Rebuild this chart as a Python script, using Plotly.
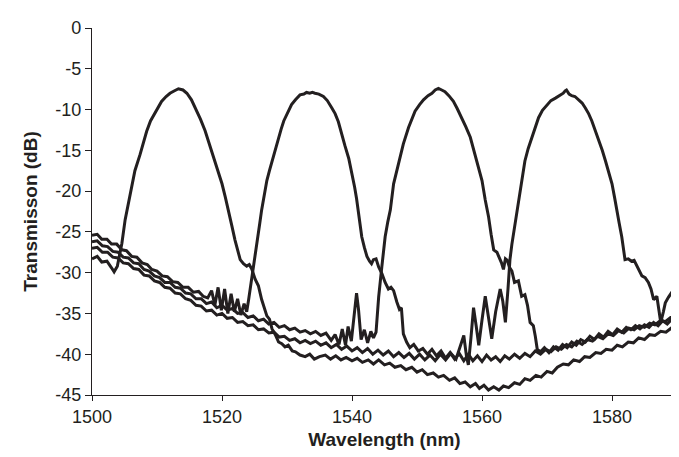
import plotly.graph_objects as go

# transmission spectra of four filters
wl_a = [1500.0, 1500.8, 1501.5, 1502.3, 1503.0, 1503.4, 1503.9, 1504.3, 1504.6, 1505.1,
        1505.9, 1506.6, 1507.4, 1508.4, 1509.0, 1509.8, 1510.7, 1511.4, 1512.0, 1512.7,
        1513.3, 1514.0, 1514.6, 1515.3, 1515.9, 1516.7, 1517.4, 1518.1, 1518.7, 1519.4,
        1520.0, 1520.5, 1521.0, 1521.5, 1522.0, 1522.4, 1522.8, 1523.3, 1523.8, 1524.2,
        1524.6, 1525.1, 1525.6, 1526.1, 1526.5, 1526.9, 1527.3, 1527.7, 1528.2, 1528.7,
        1529.2, 1529.7, 1530.2, 1530.8, 1531.3, 1532.0, 1532.8, 1533.5, 1534.2, 1535.0,
        1535.9, 1536.7, 1537.5, 1538.3, 1539.1, 1540.0, 1540.8, 1541.6, 1542.5, 1543.3,
        1544.1, 1545.0, 1545.8, 1546.6, 1547.5, 1548.3, 1549.2, 1550.0, 1550.8, 1551.6,
        1552.5, 1553.3, 1554.1, 1555.0, 1555.8, 1556.6, 1557.4, 1558.2, 1559.0, 1559.6,
        1560.3, 1561.0, 1561.8, 1562.6, 1563.3, 1564.1, 1565.0, 1565.8, 1566.6, 1567.4,
        1568.3, 1569.1, 1570.0, 1570.8, 1571.6, 1572.5, 1573.3, 1574.1, 1575.0, 1575.8,
        1576.6, 1577.5, 1578.3, 1579.1, 1580.0, 1580.8, 1581.6, 1582.5, 1583.3, 1584.1,
        1585.0, 1585.8, 1586.6, 1587.5, 1588.3, 1589.1, 1590.0]
db_a = [-28.3, -28.0, -28.7, -28.6, -29.4, -29.9, -29.2, -27.8, -26.4, -23.5,
        -20.3, -17.5, -15.5, -12.7, -11.4, -10.2, -9.0, -8.4, -8.0, -7.7,
        -7.45, -7.6, -8.0, -8.8, -9.8, -11.2, -12.6, -14.3, -15.9, -17.6,
        -19.1, -20.7, -22.3, -24.2, -26.0, -27.3, -28.4, -28.9, -29.2, -29.0,
        -29.6, -30.8, -31.6, -33.3, -34.2, -35.3, -35.7, -36.9, -37.6, -38.5,
        -38.7, -39.1, -38.9, -39.6, -39.7, -40.1, -40.3, -40.0, -40.6, -40.3,
        -40.1, -40.6, -40.2, -40.7, -40.4, -40.8, -40.5, -41.0, -40.7, -41.2,
        -40.7, -41.3, -41.1, -41.6, -41.4, -41.9, -41.6, -42.2, -41.9, -42.5,
        -42.3, -42.8, -42.6, -43.2, -42.9, -43.6, -43.4, -44.0, -43.6, -44.2,
        -43.8, -44.4, -44.0, -44.4, -43.9, -44.1, -43.5, -43.7, -43.0, -43.2,
        -42.6, -42.8, -42.1, -42.3, -41.6, -41.2, -41.3, -40.7, -40.9, -40.3,
        -40.4, -39.8, -39.9, -39.4, -39.5, -38.9, -39.1, -38.5, -38.6, -38.0,
        -38.2, -37.6, -37.7, -37.2, -37.3, -36.8, -36.9]

wl_b = [1500.0, 1500.8, 1501.5, 1502.3, 1503.0, 1503.8, 1504.6, 1505.3, 1506.1, 1506.9,
        1507.7, 1508.5, 1509.2, 1510.0, 1510.8, 1511.6, 1512.4, 1513.2, 1514.0, 1514.8,
        1515.6, 1516.4, 1517.1, 1517.8, 1518.4, 1518.9, 1519.4, 1519.9, 1520.4, 1520.9,
        1521.4, 1521.9, 1522.4, 1522.9, 1523.4, 1523.8, 1524.1, 1524.6, 1525.0, 1525.4,
        1525.8, 1526.1, 1526.5, 1526.9, 1527.3, 1527.7, 1528.2, 1528.7, 1529.1, 1529.5,
        1530.1, 1530.7, 1531.3, 1532.0, 1532.6, 1533.0, 1533.5, 1533.9, 1534.3, 1534.9,
        1535.6, 1536.2, 1536.9, 1537.4, 1537.9, 1538.4, 1538.9, 1539.5, 1540.0, 1540.4,
        1540.7, 1541.1, 1541.5, 1541.9, 1542.3, 1542.7, 1543.0, 1543.3, 1543.7, 1544.1,
        1544.6, 1545.1, 1545.6, 1546.0, 1546.4, 1546.9, 1547.3, 1547.6, 1547.9, 1548.4,
        1548.9, 1549.5, 1550.2, 1550.9, 1551.6, 1552.3, 1553.0, 1553.7, 1554.4, 1555.1,
        1555.8, 1556.5, 1557.2, 1557.9, 1558.6, 1559.3, 1560.0, 1560.7, 1561.4, 1562.1,
        1562.8, 1563.5, 1564.2, 1565.0, 1565.8, 1566.6, 1567.4, 1568.2, 1569.0, 1569.8,
        1570.6, 1571.4, 1572.2, 1573.0, 1573.8, 1574.6, 1575.4, 1576.2, 1577.0, 1577.8,
        1578.6, 1579.4, 1580.2, 1581.0, 1581.8, 1582.6, 1583.4, 1584.2, 1585.0, 1585.8,
        1586.6, 1587.4, 1588.2, 1589.0, 1590.0]
db_b = [-25.4, -25.3, -25.9, -25.9, -26.5, -26.5, -27.2, -27.3, -28.0, -28.1,
        -28.8, -29.0, -29.6, -29.8, -30.4, -30.5, -31.1, -31.2, -31.8, -31.8,
        -32.4, -32.3, -32.9, -33.1, -32.2, -34.0, -31.8, -34.6, -32.0, -35.0,
        -32.6, -34.8, -33.2, -35.2, -33.8, -34.8, -33.3, -30.4, -28.0, -26.0,
        -24.0, -22.3, -20.4, -18.7, -17.5, -16.3, -14.8, -13.4, -12.4, -11.4,
        -10.3, -9.4, -8.8, -8.2, -8.1, -7.9, -8.0, -7.9, -8.0, -8.1,
        -8.4, -8.9, -9.8, -10.5, -11.5, -12.8, -14.4, -16.0, -17.8, -19.5,
        -20.9, -23.4, -25.6, -26.9, -28.0, -28.6, -28.9, -28.4, -28.3, -29.3,
        -30.1, -31.2, -32.0, -31.8, -32.2, -33.6, -34.5, -34.3, -37.5, -38.5,
        -39.2, -38.8, -39.6, -39.3, -40.0, -39.4, -40.2, -39.6, -40.5, -39.8,
        -40.6, -39.9, -40.8, -40.0, -40.8, -40.2, -40.9, -40.1, -40.7, -40.3,
        -40.9, -40.2, -40.6, -40.0, -40.5, -39.9, -40.3, -39.6, -40.0, -39.4,
        -39.7, -39.1, -39.4, -38.8, -39.1, -38.4, -38.8, -38.2, -38.4, -37.8,
        -38.1, -37.5, -37.7, -37.1, -37.4, -36.8, -37.0, -36.5, -36.7, -36.2,
        -36.4, -35.9, -36.0, -35.5, -35.6]

wl_c = [1500.0, 1500.8, 1501.6, 1502.4, 1503.2, 1504.0, 1504.8, 1505.6, 1506.4, 1507.2,
        1508.0, 1508.8, 1509.6, 1510.4, 1511.2, 1512.0, 1512.8, 1513.6, 1514.4, 1515.2,
        1516.0, 1516.8, 1517.6, 1518.4, 1519.2, 1520.0, 1520.8, 1521.6, 1522.4, 1523.2,
        1524.0, 1524.8, 1525.6, 1526.4, 1527.2, 1528.0, 1528.8, 1529.6, 1530.4, 1531.2,
        1532.0, 1532.8, 1533.6, 1534.4, 1535.2, 1536.0, 1536.8, 1537.4, 1538.0, 1538.5,
        1539.0, 1539.4, 1539.9, 1540.3, 1540.7, 1541.0, 1541.4, 1541.9, 1542.4, 1542.9,
        1543.3, 1543.7, 1544.1, 1544.6, 1545.1, 1545.5, 1545.9, 1546.4, 1546.8, 1547.2,
        1547.9, 1548.7, 1549.2, 1549.7, 1550.4, 1551.0, 1551.7, 1552.3, 1552.8, 1553.3,
        1553.8, 1554.3, 1554.9, 1555.6, 1556.2, 1556.9, 1557.5, 1558.2, 1558.7, 1559.2,
        1559.6, 1560.0, 1560.5, 1561.0, 1561.4, 1561.8, 1562.3, 1562.7, 1563.0, 1563.3,
        1563.6, 1563.9, 1564.2, 1564.6, 1565.0, 1565.6, 1566.1, 1566.6, 1567.0, 1567.4,
        1567.9, 1568.2, 1568.5, 1569.0, 1569.6, 1570.3, 1571.0, 1571.7, 1572.4, 1573.1,
        1573.8, 1574.5, 1575.2, 1575.9, 1576.6, 1577.3, 1578.0, 1578.7, 1579.4, 1580.1,
        1580.8, 1581.5, 1582.2, 1582.9, 1583.6, 1584.3, 1585.0, 1585.7, 1586.4, 1587.1,
        1587.8, 1588.5, 1589.2, 1590.0]
db_c = [-26.2, -26.1, -26.7, -26.8, -27.4, -27.5, -28.1, -28.2, -28.8, -28.9,
        -29.6, -29.8, -30.4, -30.6, -31.2, -31.2, -31.8, -31.9, -32.5, -32.6,
        -33.2, -33.2, -33.8, -33.6, -34.3, -34.0, -34.6, -34.4, -35.0, -34.9,
        -35.5, -35.3, -35.9, -35.7, -36.3, -36.1, -36.7, -36.5, -37.0, -36.8,
        -37.3, -37.1, -37.5, -37.2, -37.7, -37.4, -38.3, -37.6, -38.8, -36.9,
        -38.9, -36.6, -38.4, -35.5, -32.5, -34.5, -38.2, -37.0, -38.6, -37.2,
        -38.0, -37.3, -33.0, -29.2, -25.6, -23.8, -22.3, -19.1, -17.8, -16.7,
        -14.2, -12.2, -11.1, -10.2, -9.4, -8.8, -8.3, -8.0, -7.6, -7.4,
        -7.6, -7.8, -8.3, -9.0, -9.9, -11.0, -12.1, -13.4, -14.8, -16.3,
        -17.4, -18.7, -21.1, -23.1, -25.3, -27.2, -27.5, -28.2, -28.8, -29.6,
        -28.3, -28.5, -29.3, -29.8, -31.2, -31.0, -32.9, -32.7, -34.0, -36.1,
        -36.5, -37.8, -39.4, -39.7, -39.2, -39.8, -39.1, -39.5, -38.8, -39.2,
        -38.5, -38.9, -38.2, -38.5, -37.8, -38.2, -37.5, -37.9, -37.2, -37.6,
        -36.9, -37.3, -36.7, -37.0, -36.5, -36.9, -36.4, -36.7, -36.1, -36.5,
        -35.9, -36.3, -35.7, -36.0]

wl_d = [1500.0, 1500.8, 1501.6, 1502.4, 1503.2, 1504.0, 1504.8, 1505.6, 1506.4, 1507.2,
        1508.0, 1508.8, 1509.6, 1510.4, 1511.2, 1512.0, 1512.8, 1513.6, 1514.4, 1515.2,
        1516.0, 1516.8, 1517.6, 1518.4, 1519.2, 1520.0, 1520.8, 1521.6, 1522.4, 1523.2,
        1524.0, 1524.8, 1525.6, 1526.4, 1527.2, 1528.0, 1528.8, 1529.6, 1530.4, 1531.2,
        1532.0, 1532.8, 1533.6, 1534.4, 1535.2, 1536.0, 1536.8, 1537.6, 1538.4, 1539.2,
        1540.0, 1540.8, 1541.6, 1542.4, 1543.2, 1544.0, 1544.8, 1545.6, 1546.4, 1547.2,
        1548.0, 1548.8, 1549.6, 1550.4, 1551.2, 1552.0, 1552.8, 1553.6, 1554.4, 1555.2,
        1556.0, 1556.6, 1557.2, 1557.6, 1557.9, 1558.3, 1558.7, 1559.1, 1559.5, 1560.0,
        1560.5, 1561.0, 1561.5, 1562.1, 1562.8, 1563.2, 1563.6, 1564.0, 1564.3, 1564.6,
        1565.1, 1565.5, 1565.9, 1566.2, 1566.6, 1567.1, 1567.7, 1568.2, 1568.7, 1569.3,
        1570.0, 1570.6, 1571.3, 1571.9, 1572.5, 1572.8, 1573.0, 1573.4, 1573.8, 1574.3,
        1574.8, 1575.4, 1575.9, 1576.4, 1576.9, 1577.4, 1577.9, 1578.5, 1579.0, 1579.5,
        1580.0, 1580.4, 1580.7, 1581.1, 1581.5, 1581.8, 1582.0, 1582.5, 1583.0, 1583.4,
        1583.8, 1584.2, 1584.6, 1585.1, 1585.6, 1586.0, 1586.4, 1586.9, 1587.2, 1587.5,
        1587.9, 1588.2, 1588.7, 1589.2, 1589.6, 1590.0]
db_d = [-27.0, -26.9, -27.5, -27.5, -28.1, -28.2, -28.8, -28.9, -29.5, -29.6,
        -30.3, -30.4, -31.0, -31.2, -31.8, -31.9, -32.5, -32.6, -33.2, -33.4,
        -34.0, -34.1, -34.7, -34.6, -35.2, -35.0, -35.6, -35.5, -36.1, -36.0,
        -36.5, -36.4, -37.0, -36.9, -37.4, -37.3, -37.9, -37.8, -38.3, -38.1,
        -38.6, -38.3, -38.7, -38.4, -38.9, -38.6, -39.2, -38.8, -39.4, -39.0,
        -39.6, -39.2, -39.8, -39.3, -40.0, -39.5, -40.1, -39.6, -40.3, -39.8,
        -40.4, -39.9, -40.6, -40.0, -40.7, -40.1, -40.8, -40.0, -40.7, -39.9,
        -40.6, -39.0, -37.7, -40.2, -41.3, -38.0, -34.3, -36.5, -38.9, -35.8,
        -32.9, -35.5, -38.1, -34.8, -32.0, -33.5, -36.1, -32.0, -28.4, -26.5,
        -23.9, -21.8, -19.9, -18.1, -16.3, -14.8, -13.4, -12.1, -11.0, -10.1,
        -9.4, -8.9, -8.6, -8.3, -8.0, -7.7, -7.6, -8.1, -8.3, -8.4,
        -8.8, -9.2, -9.8, -10.5, -11.4, -12.5, -13.8, -15.0, -16.3, -17.7,
        -19.1, -20.8, -22.3, -23.9, -25.6, -27.2, -28.4, -28.3, -28.6, -28.5,
        -29.2, -29.7, -30.4, -30.6, -31.2, -32.0, -33.3, -32.9, -34.5, -36.1,
        -34.8, -33.7, -33.0, -32.4, -33.0, -33.5]

x_ticks = [1500, 1520, 1540, 1560, 1580]
y_ticks = [0, -5, -10, -15, -20, -25, -30, -35, -40, -45]
y_tick_text = ["0", "-5", "-10", "-15", "-20", "-25", "-30", "-35", "-40", "-45"]

line_col = "#231f20"
font_fam = "Liberation Sans, Arial, sans-serif"

fig = go.Figure()
for wl, db in [(wl_a, db_a), (wl_b, db_b), (wl_c, db_c), (wl_d, db_d)]:
    fig.add_trace(go.Scatter(x=wl, y=db, mode="lines",
                             line=dict(color=line_col, width=3),
                             showlegend=False, hoverinfo="skip"))

fig.update_layout(
    width=679, height=457,
    margin=dict(l=84, r=10, t=16, b=70),
    paper_bgcolor="white", plot_bgcolor="white",
    font=dict(family=font_fam, size=18, color="#231f20"),
)
fig.update_xaxes(
    range=[1500, 1590], tickmode="array", tickvals=x_ticks,
    showgrid=False, zeroline=False,
    showline=True, linecolor="#231f20", linewidth=1.2,
    ticks="outside", ticklen=5, tickcolor="#231f20",
    title=dict(text="<b>Wavelength (nm)</b>", font=dict(size=19), standoff=6),
)
fig.update_yaxes(
    range=[-45, 0], tickmode="array", tickvals=y_ticks, ticktext=y_tick_text,
    showgrid=False, zeroline=False,
    showline=True, linecolor="#231f20", linewidth=1.2,
    ticks="outside", ticklen=6, tickcolor="#231f20",
    title=dict(text="<b>Transmisson (dB)</b>", font=dict(size=19), standoff=12),
)

fig.write_html("out.html")
